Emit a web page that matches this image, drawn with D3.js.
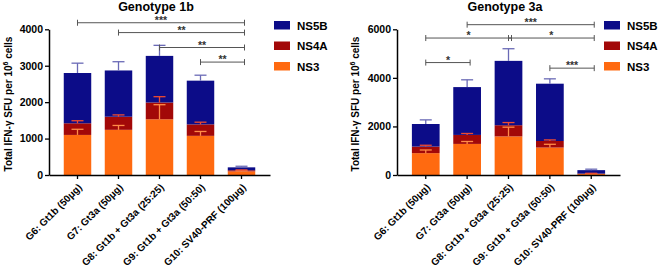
<!DOCTYPE html>
<html>
<head>
<meta charset="utf-8">
<script src="https://cdn.jsdelivr.net/npm/d3@7"></script>
<style>
  body { margin: 0; background: #fff; }
  text { font-family: "Liberation Sans", Arial, sans-serif; font-weight: bold; }
</style>
</head>
<body>
<svg id="chart" width="660" height="275"></svg>
<script>
// categories + series
const groups = ["G6: Gt1b (50\u03bcg)", "G7: Gt3a (50\u03bcg)", "G8: Gt1b + Gt3a (25:25)",
  "G9: Gt1b + Gt3a (50:50)", "G10: SV40-PRF (100\u03bcg)"];
const series = ["NS3", "NS4A", "NS5B"];

// genotype 1b (mean + upper error)
const gt1b_ns3 = [1100, 1240, 1530, 1075, 100];
const gt1b_ns4a = [320, 360, 460, 315, 30];
const gt1b_ns5b = [1380, 1270, 1280, 1200, 80];
const gt1b_ns3_err = [155, 120, 400, 120, 15];
const gt1b_ns4a_err = [70, 50, 160, 60, 10];
const gt1b_ns5b_err = [270, 240, 290, 150, 30];
const gt1b_ticks = [0, 1000, 2000, 3000, 4000];
// significance: from, to, label, height
const gt1b_sig = [[0, 4, "***", 4180], [1, 4, "**", 3910], [2, 4, "**", 3500], [3, 4, "**", 3100]];

// genotype 3a
const gt3a_ns3 = [900, 1280, 1590, 1130, 40];
const gt3a_ns4a = [270, 370, 460, 270, 20];
const gt3a_ns5b = [930, 1970, 2650, 2360, 140];
const gt3a_ns3_err = [130, 100, 380, 135, 15];
const gt3a_ns4a_err = [55, 60, 110, 45, 10];
const gt3a_ns5b_err = [170, 300, 500, 200, 40];
const gt3a_ticks = [0, 2000, 4000, 6000];
const gt3a_sig = [[1, 4, "***", 6190], [0, 2, "*", 5640], [2, 4, "*", 5640], [0, 1, "*", 4630], [3, 4, "***", 4400]];

const colors = { NS3: "#ff6a10", NS4A: "#a20808", NS5B: "#0c0c88" };
const errColors = { NS3: "#ff8c48", NS4A: "#ee4a30", NS5B: "#6a6ab6" };

const svg = d3.select("#chart");

function drawPanel(opts) {
  const g = svg.append("g");
  const x = d3.scaleBand().domain(groups).range([opts.x0, opts.x1]).paddingInner(0.33).paddingOuter(0.36);
  const y = d3.scaleLinear().domain([0, opts.max]).range([175, 29.3]);

  // stacked rows
  const rows = groups.map((name, i) => ({
    name, NS3: opts.ns3[i], NS4A: opts.ns4a[i], NS5B: opts.ns5b[i],
    err: { NS3: opts.err3[i], NS4A: opts.err4[i], NS5B: opts.err5[i] }
  }));
  const stacked = d3.stack().keys(series)(rows);

  const layers = g.selectAll(".layer").data(stacked).join("g")
    .attr("class", "layer")
    .attr("fill", d => colors[d.key]);
  layers.selectAll("rect").data(d => d).join("rect")
    .attr("x", d => x(d.data.name))
    .attr("width", x.bandwidth())
    .attr("y", d => y(d[1]))
    .attr("height", d => y(d[0]) - y(d[1]));

  // error bars (upper only)
  const cap = 6;
  stacked.forEach(layer => {
    const eg = g.append("g").attr("stroke", errColors[layer.key]).attr("stroke-width", 1.3);
    layer.forEach(d => {
      const cx = x(d.data.name) + x.bandwidth() / 2;
      const top = y(d[1] + d.data.err[layer.key]);
      eg.append("line").attr("x1", cx).attr("x2", cx).attr("y1", y(d[1])).attr("y2", top);
      eg.append("line").attr("x1", cx - cap).attr("x2", cx + cap).attr("y1", top).attr("y2", top);
    });
  });

  // axes
  const yAxis = d3.axisLeft(y).tickValues(opts.ticks).tickFormat(d3.format("d"))
    .tickSize(4).tickPadding(2).tickSizeOuter(0);
  const yg = g.append("g").attr("transform", `translate(${opts.x0},0)`).call(yAxis);
  yg.select(".domain").attr("stroke", "#000").attr("stroke-width", 1.5);
  yg.selectAll(".tick line").attr("stroke", "#000").attr("stroke-width", 1.3);
  yg.selectAll(".tick text").attr("font-size", 10.5).attr("fill", "#000")
    .style("font-family", "'Liberation Sans', Arial, sans-serif").style("font-weight", "bold");

  const xAxis = d3.axisBottom(x).tickSize(4).tickSizeOuter(0);
  const xg = g.append("g").attr("transform", "translate(0,175)").call(xAxis);
  xg.select(".domain").attr("stroke", "#000").attr("stroke-width", 1.5);
  xg.selectAll(".tick line").attr("stroke", "#000").attr("stroke-width", 1.3);
  xg.selectAll(".tick text")
    .attr("font-size", 10).attr("fill", "#000")
    .style("font-family", "'Liberation Sans', Arial, sans-serif").style("font-weight", "bold")
    .attr("text-anchor", "end")
    .attr("y", 0).attr("dy", 0)
    .attr("transform", "translate(5,13) rotate(-45)");

  // y label
  const yl = g.append("text")
    .attr("transform", `translate(${opts.labelX},104) rotate(-90)`)
    .attr("text-anchor", "middle").attr("font-size", 10).attr("fill", "#000");
  yl.append("tspan").text("Total IFN-\u03b3 SFU per 10");
  yl.append("tspan").attr("dy", -4).attr("font-size", 7).text("6");
  yl.append("tspan").attr("dy", 4).text(" cells");

  // title
  g.append("text").attr("x", opts.titleX).attr("y", 11).attr("text-anchor", "middle")
    .attr("font-size", 12.5).attr("fill", "#000").text(opts.title);

  // significance brackets
  opts.sig.forEach(([a, b, lab, h]) => {
    const xa = x(groups[a]) + x.bandwidth() / 2;
    const xb = x(groups[b]) + x.bandwidth() / 2 + 3;
    const yy = y(h);
    const sg = g.append("g").attr("stroke", "#555").attr("stroke-width", 1);
    sg.append("line").attr("x1", xa).attr("x2", xb).attr("y1", yy).attr("y2", yy);
    sg.append("line").attr("x1", xa).attr("x2", xa).attr("y1", yy - 3).attr("y2", yy + 3);
    sg.append("line").attr("x1", xb).attr("x2", xb).attr("y1", yy - 3).attr("y2", yy + 3);
    g.append("text").attr("x", (xa + xb) / 2).attr("y", yy + 1).attr("text-anchor", "middle")
      .attr("font-size", 10.5).attr("fill", "#333").text(lab);
  });

  // legend
  const lg = g.append("g").attr("transform", `translate(${opts.legendX},21)`);
  series.slice().reverse().forEach((s, i) => {
    lg.append("rect").attr("x", 0).attr("y", i * 20.5).attr("width", 16).attr("height", 8.5)
      .attr("fill", colors[s]);
    lg.append("text").attr("x", 23).attr("y", i * 20.5 + 8.5).attr("font-size", 11.5)
      .attr("fill", "#000").text(s);
  });
}

drawPanel({
  x0: 49, x1: 270, max: 4000, ticks: gt1b_ticks, title: "Genotype 1b", titleX: 156,
  ns3: gt1b_ns3, ns4a: gt1b_ns4a, ns5b: gt1b_ns5b,
  err3: gt1b_ns3_err, err4: gt1b_ns4a_err, err5: gt1b_ns5b_err,
  sig: gt1b_sig, labelX: 12, legendX: 274
});
drawPanel({
  x0: 397, x1: 620, max: 6000, ticks: gt3a_ticks, title: "Genotype 3a", titleX: 505,
  ns3: gt3a_ns3, ns4a: gt3a_ns4a, ns5b: gt3a_ns5b,
  err3: gt3a_ns3_err, err4: gt3a_ns4a_err, err5: gt3a_ns5b_err,
  sig: gt3a_sig, labelX: 359, legendX: 604
});
</script>
</body>
</html>
